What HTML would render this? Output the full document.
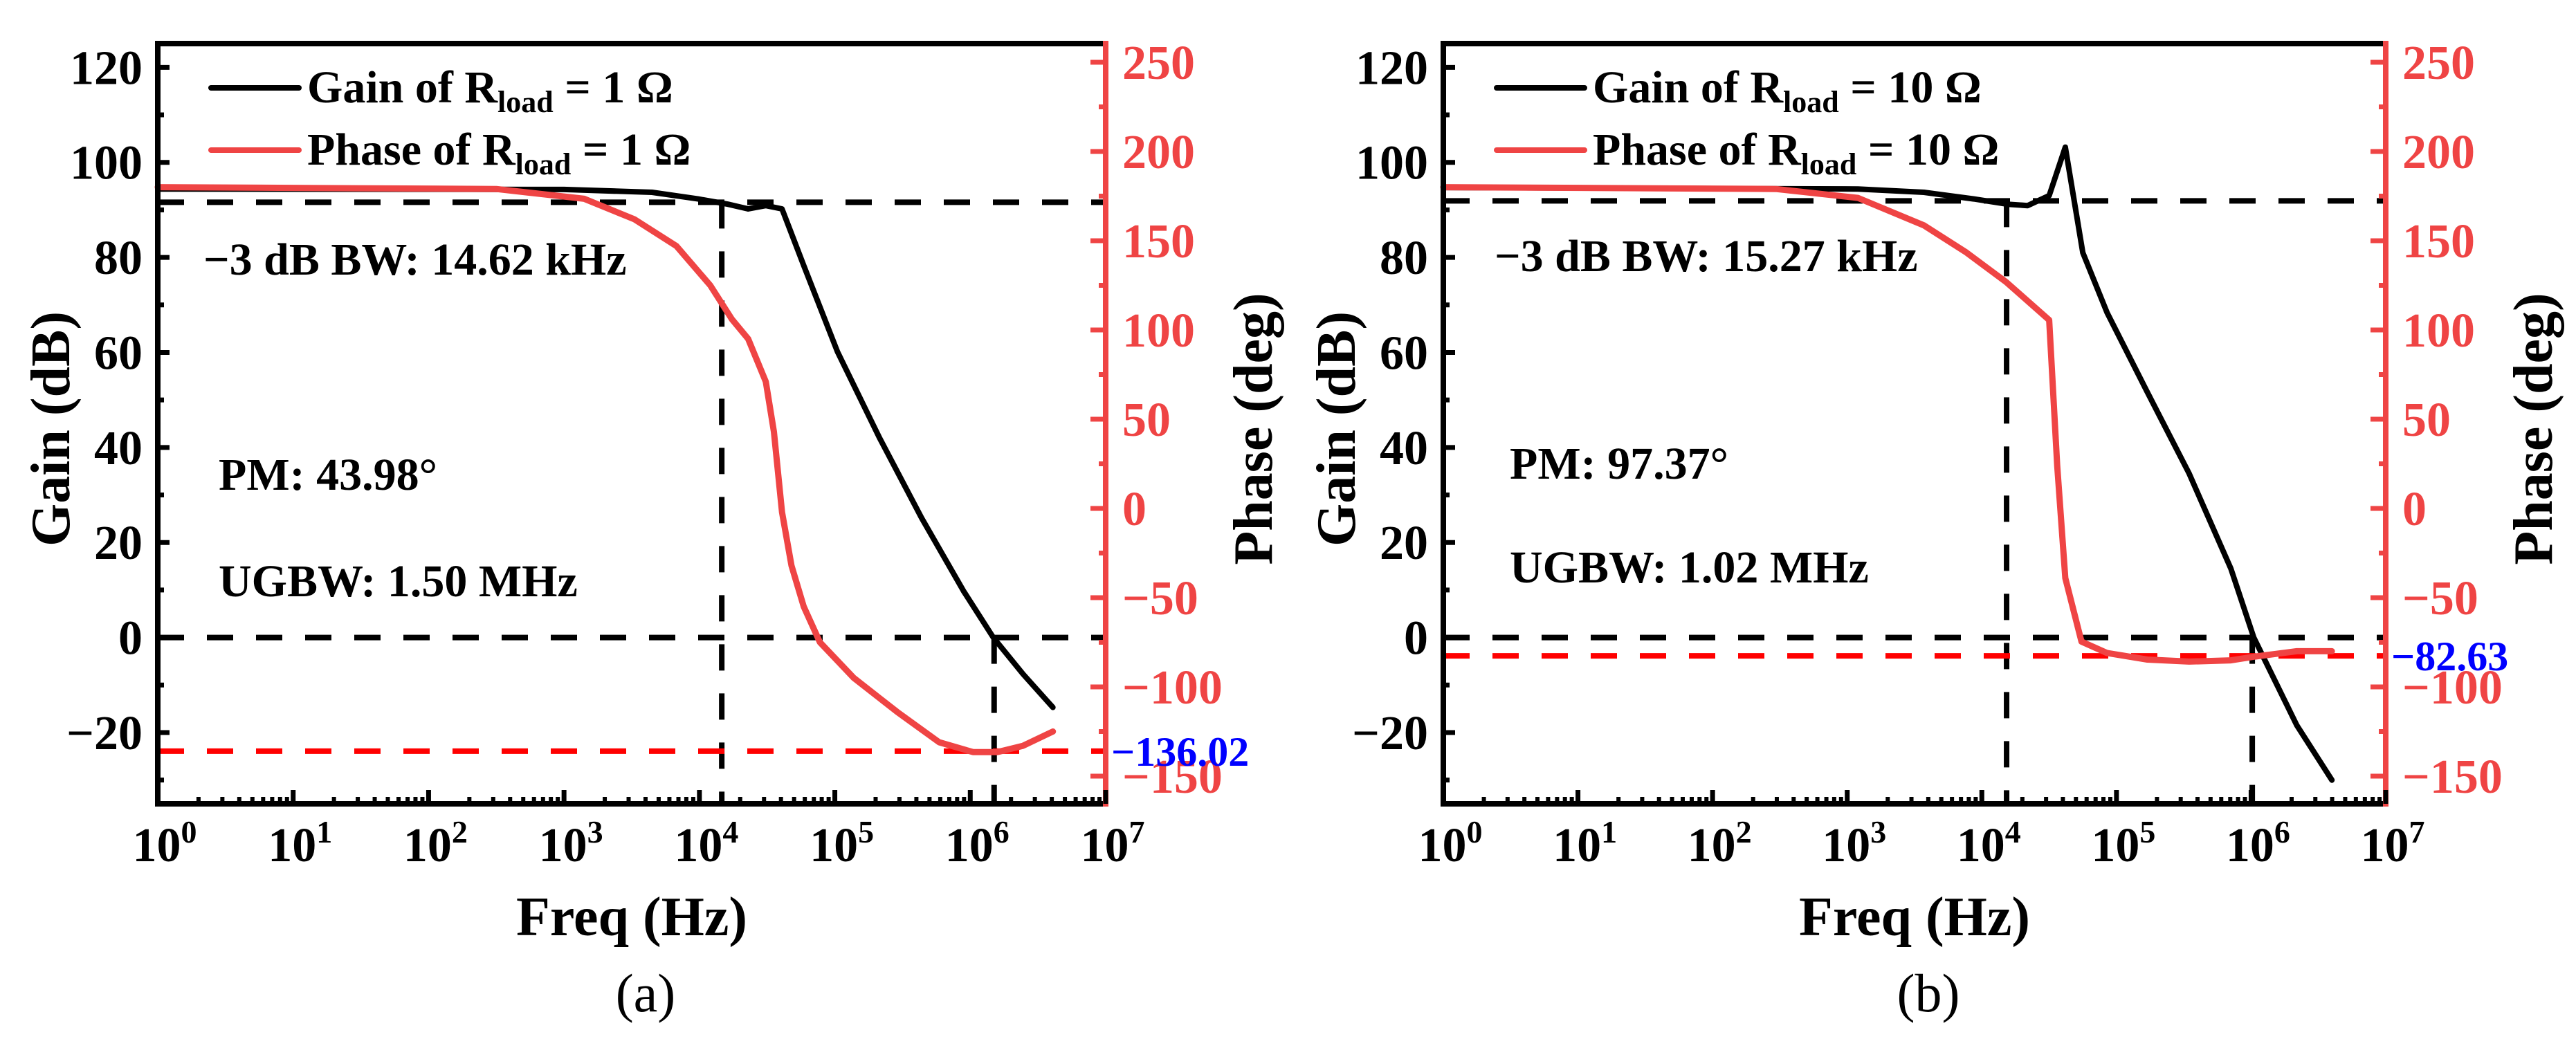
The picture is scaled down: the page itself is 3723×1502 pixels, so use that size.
<!DOCTYPE html>
<html><head><meta charset="utf-8"><style>
html,body{margin:0;padding:0;background:#fff;}
svg{display:block;font-family:"Liberation Serif","Times New Roman",serif;}
</style></head><body>
<svg id="fig" width="3723" height="1502" viewBox="0 0 3723 1502" xmlns="http://www.w3.org/2000/svg"></svg>
<script>
// ---------- data (x values are log10 of frequency in Hz) ----------
const gainA_logf = [0, 3.0, 3.65, 3.99, 4.21, 4.36, 4.49, 4.61, 4.77, 5.02, 5.33, 5.64, 5.95, 6.17, 6.39, 6.61];
const gainA_db   = [94.4, 94.3, 93.7, 92.3, 91.2, 90.2, 90.9, 90.2, 78.3, 60.1, 42, 25.2, 9.8, 0, -7.7, -14.7];
const phaseA_logf = [0, 2.5, 3.15, 3.52, 3.83, 4.08, 4.24, 4.36, 4.49, 4.55, 4.61, 4.68, 4.77, 4.89, 5.14, 5.46, 5.77, 6.02, 6.2, 6.39, 6.61];
const phaseA_deg  = [180, 179, 173.5, 162, 147, 125, 106, 95, 71, 43, -2, -32, -55, -75, -95, -114, -131, -136.5, -136.5, -133, -125];
const gainB_logf = [0, 3.08, 3.57, 3.94, 4.19, 4.34, 4.5, 4.62, 4.75, 4.93, 5.23, 5.54, 5.85, 6.02, 6.34, 6.6];
const gainB_db   = [94.7, 94.4, 93.7, 92.3, 91.2, 90.9, 93, 103.2, 81, 68.4, 51.6, 34.5, 14.5, 0, -18.5, -30];
const phaseB_logf = [0, 2.47, 3.08, 3.57, 3.88, 4.18, 4.5, 4.56, 4.62, 4.74, 4.93, 5.23, 5.54, 5.85, 6.03, 6.34, 6.6];
const phaseB_deg  = [180, 179, 174, 158.6, 143.7, 126.9, 105.6, 24, -39, -74.6, -81, -84.7, -85.8, -85.1, -83, -80, -80];
const gainTicks = [-20, 0, 20, 40, 60, 80, 100, 120];
const phaseTicks = [-150, -100, -50, 0, 50, 100, 150, 200, 250];
const decades = [0, 1, 2, 3, 4, 5, 6, 7];
const bwA = 14620, ugbwA = 1.50e6, pmLineA = -136.02, m3dbA = 91.6;
const bwB = 15270, ugbwB = 1.02e6, pmLineB = -82.63, m3dbB = 91.9;

const NS = "http://www.w3.org/2000/svg";
const svg = document.getElementById('fig');
function mk(tag, attrs, parent, text){
  const e = document.createElementNS(NS, tag);
  for (const k in attrs) e.setAttribute(k, attrs[k]);
  if (text !== undefined) e.textContent = text;
  (parent || svg).appendChild(e);
  return e;
}
const RED = '#ef4444';

function panel(p){
  const g = mk('g', {});
  
  
  const L = p.L, R = p.R, T = 63, B = 1162;
  const X = lf => L + (R - L) * lf / 7;
  const YG = v => T + (125 - v) / 160 * (B - T);
  const YP = v => 735 - v * 129 / 50;

  const dash = {stroke:'#000','stroke-width':8,'stroke-dasharray':'38 33',fill:'none'};
  let e = mk('line', Object.assign({x1:L,x2:R,y1:YG(p.m3db),y2:YG(p.m3db)}, dash), g);
   
  e = mk('line', Object.assign({x1:L,x2:R,y1:YG(0),y2:YG(0)}, dash), g);
   
  e = mk('line', Object.assign({x1:X(Math.log10(p.bw)),x2:X(Math.log10(p.bw)),y1:YG(p.m3db),y2:B}, dash), g);
   
  e = mk('line', Object.assign({x1:X(Math.log10(p.ugbw)),x2:X(Math.log10(p.ugbw)),y1:YG(0),y2:B}, dash), g);
   
  e = mk('line', {x1:L,x2:R,y1:YP(p.pmLine),y2:YP(p.pmLine),stroke:'#ff0000','stroke-width':8,'stroke-dasharray':'38 33'}, g);
   

  let d = p.gx.map((v,i)=>(i?'L':'M')+X(v).toFixed(1)+' '+YG(p.gy[i]).toFixed(1)).join(' ');
  e = mk('path', {d:d, fill:'none', stroke:'#000','stroke-width':8,'stroke-linejoin':'round','stroke-linecap':'round'}, g);
   
  d = p.px.map((v,i)=>(i?'L':'M')+X(v).toFixed(1)+' '+YP(p.py[i]).toFixed(1)).join(' ');
  e = mk('path', {d:d, fill:'none', stroke:RED,'stroke-width':9,'stroke-linejoin':'round','stroke-linecap':'round'}, g);
   

  e = mk('line',{x1:L,x2:R+3,y1:T,y2:T,stroke:'#000','stroke-width':8},g);
   
  e = mk('line',{x1:L,x2:R,y1:B,y2:B,stroke:'#000','stroke-width':8},g);
   
  e = mk('line',{x1:L,x2:L,y1:T-4,y2:B+4,stroke:'#000','stroke-width':8},g);
   
  e = mk('line',{x1:R,x2:R,y1:T-4,y2:B+4,stroke:RED,'stroke-width':8},g);
   

  for (let v=-30; v<=120; v+=10){
    const major = v % 20 === 0;
    mk('line',{x1:L,x2:L+(major?17:9),y1:YG(v),y2:YG(v),stroke:'#000','stroke-width':7},g);
  }
  gainTicks.forEach(v=>{
    const t = mk('text',{x:L-22,y:YG(v)+24,'text-anchor':'end','font-size':70,'font-weight':'bold',fill:'#000'},g,(v<0?'\u2212'+(-v):String(v)));
     
  });
  for (let v=-150; v<=250; v+=25){
    const major = v % 50 === 0;
    mk('line',{x1:R,x2:R-(major?22:10),y1:YP(v),y2:YP(v),stroke:RED,'stroke-width':7},g);
  }
  phaseTicks.forEach(v=>{
    const t = mk('text',{x:R+24,y:YP(v)+24,'font-size':70,'font-weight':'bold',fill:RED},g,(v<0?'\u2212'+(-v):String(v)));
     
  });
  decades.forEach(k=>{
    mk('line',{x1:X(k),x2:X(k),y1:B,y2:B-20,stroke:'#000','stroke-width':7},g);
    if (k<7) for (let m=2;m<=9;m++){ const xx=X(k+Math.log10(m)); mk('line',{x1:xx,x2:xx,y1:B,y2:B-10,stroke:'#000','stroke-width':6},g); }
    const t = mk('text',{x:X(k)+10,y:1245,'text-anchor':'middle','font-size':70,'font-weight':'bold',fill:'#000'},g);
     
    mk('tspan',{},t,'10');
    mk('tspan',{dy:-27,'font-size':46},t,String(k));
  });

  e = mk('text',{x:0,y:0,transform:`translate(${L-128},620) rotate(-90)`,'text-anchor':'middle','font-size':80,'font-weight':'bold'},g,'Gain (dB)');
   
  e = mk('text',{x:0,y:0,transform:`translate(${R+240},620) rotate(-90)`,'text-anchor':'middle','font-size':80,'font-weight':'bold'},g,'Phase (deg)');
   
  e = mk('text',{x:(L+R)/2,y:1352,'text-anchor':'middle','font-size':80,'font-weight':'bold'},g,'Freq (Hz)');
   
  e = mk('text',{x:(L+R)/2+20,y:1462,'text-anchor':'middle','font-size':78},g,p.cap);
   

  const lg = mk('g',{},g);
   
  mk('line',{x1:L+77,x2:L+204,y1:127,y2:127,stroke:'#000','stroke-width':8,'stroke-linecap':'round'},lg);
  mk('line',{x1:L+77,x2:L+204,y1:217,y2:217,stroke:RED,'stroke-width':8,'stroke-linecap':'round'},lg);
  [['Gain',148],['Phase',238]].forEach(([w,y])=>{
    const t = mk('text',{x:L+216,y:y,'font-size':66,'font-weight':'bold'},lg);
     
    mk('tspan',{},t,w+' of R');
    mk('tspan',{dy:14,'font-size':44},t,'load');
    mk('tspan',{dy:-14},t,' = '+p.r+' \u03A9');
  });

  e = mk('text',{x:p.annX,y:p.bwY,'font-size':66,'font-weight':'bold'},g,'\u22123 dB BW: '+p.bwTxt);
   
  e = mk('text',{x:p.annX+22,y:p.pmY,'font-size':66,'font-weight':'bold'},g,'PM: '+p.pmTxt);
   
  e = mk('text',{x:p.annX+22,y:p.ugY,'font-size':66,'font-weight':'bold'},g,'UGBW: '+p.ugTxt);
   
  e = mk('text',{x:R+8,y:YP(p.pmLine)+21,'font-size':60,'font-weight':'bold',fill:'#0000ff'},g,'\u2212'+(-p.pmLine).toFixed(2));
   
}

panel({id:'a',L:228,R:1598,gx:gainA_logf,gy:gainA_db,px:phaseA_logf,py:phaseA_deg,bw:bwA,ugbw:ugbwA,pmLine:pmLineA,m3db:m3dbA,
  cap:'(a)',r:'1',annX:294,bwY:397,pmY:708,ugY:862,bwTxt:'14.62 kHz',pmTxt:'43.98\u00B0',ugTxt:'1.50 MHz'});
panel({id:'b',L:2086,R:3448,gx:gainB_logf,gy:gainB_db,px:phaseB_logf,py:phaseB_deg,bw:bwB,ugbw:ugbwB,pmLine:pmLineB,m3db:m3dbB,
  cap:'(b)',r:'10',annX:2160,bwY:392,pmY:692,ugY:842,bwTxt:'15.27 kHz',pmTxt:'97.37\u00B0',ugTxt:'1.02 MHz'});
</script>
</body></html>
